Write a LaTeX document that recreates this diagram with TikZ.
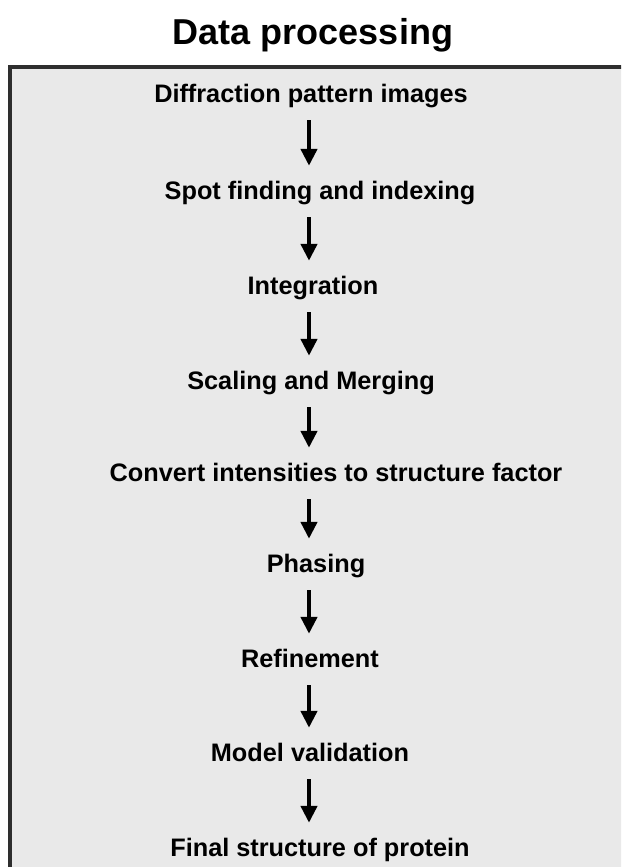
\documentclass[tikz,border=0pt]{standalone}
\usepackage{fontspec}
\setmainfont{Liberation Sans}
\usetikzlibrary{arrows.meta}
\definecolor{boxfill}{HTML}{E9E9E9}
\definecolor{boxline}{HTML}{2E2E2E}
\tikzset{
  stepnode/.style={anchor=base, inner sep=0pt, text height=19pt, text depth=6pt,
    font=\fontsize{25.3pt}{28pt}\selectfont\bfseries},
  titlenode/.style={anchor=base, inner sep=0pt, font=\fontsize{36pt}{40pt}\selectfont\bfseries},
  flow/.style={line width=4.5pt, -{Triangle[width=16pt,length=17pt]}, shorten <=12pt, shorten >=14pt},
}
\begin{document}
\begin{tikzpicture}[x=1pt,y=1pt]
\useasboundingbox (0,0) rectangle (621,-867);
\clip (0,0) rectangle (621,-867);
\fill[white] (0,0) rectangle (621,-867);
\draw[boxline, fill=boxfill, line width=4pt] (10,-67.5) rectangle (640,-890);
\node[titlenode] (title) at (313,-45) {Data processing};
\coordinate (axis) at (309,0);
\node[stepnode] (s1) at (311,-102) {Diffraction pattern images};
\node[stepnode] (s2) at (320,-199) {Spot finding and indexing};
\node[stepnode] (s3) at (313,-294) {Integration};
\node[stepnode] (s4) at (311,-389) {Scaling and Merging};
\node[stepnode] (s5) at (336,-481) {Convert intensities to structure factor};
\node[stepnode] (s6) at (316,-572) {Phasing};
\node[stepnode] (s7) at (310,-667) {Refinement};
\node[stepnode] (s8) at (310,-761) {Model validation};
\node[stepnode] (s9) at (320,-856) {Final structure of protein};
\foreach \a/\b in {s1/s2,s2/s3,s3/s4,s4/s5,s5/s6,s6/s7,s7/s8,s8/s9}
  \draw[flow] (\a.south -| axis) -- (\b.north -| axis);
\end{tikzpicture}
\end{document}
